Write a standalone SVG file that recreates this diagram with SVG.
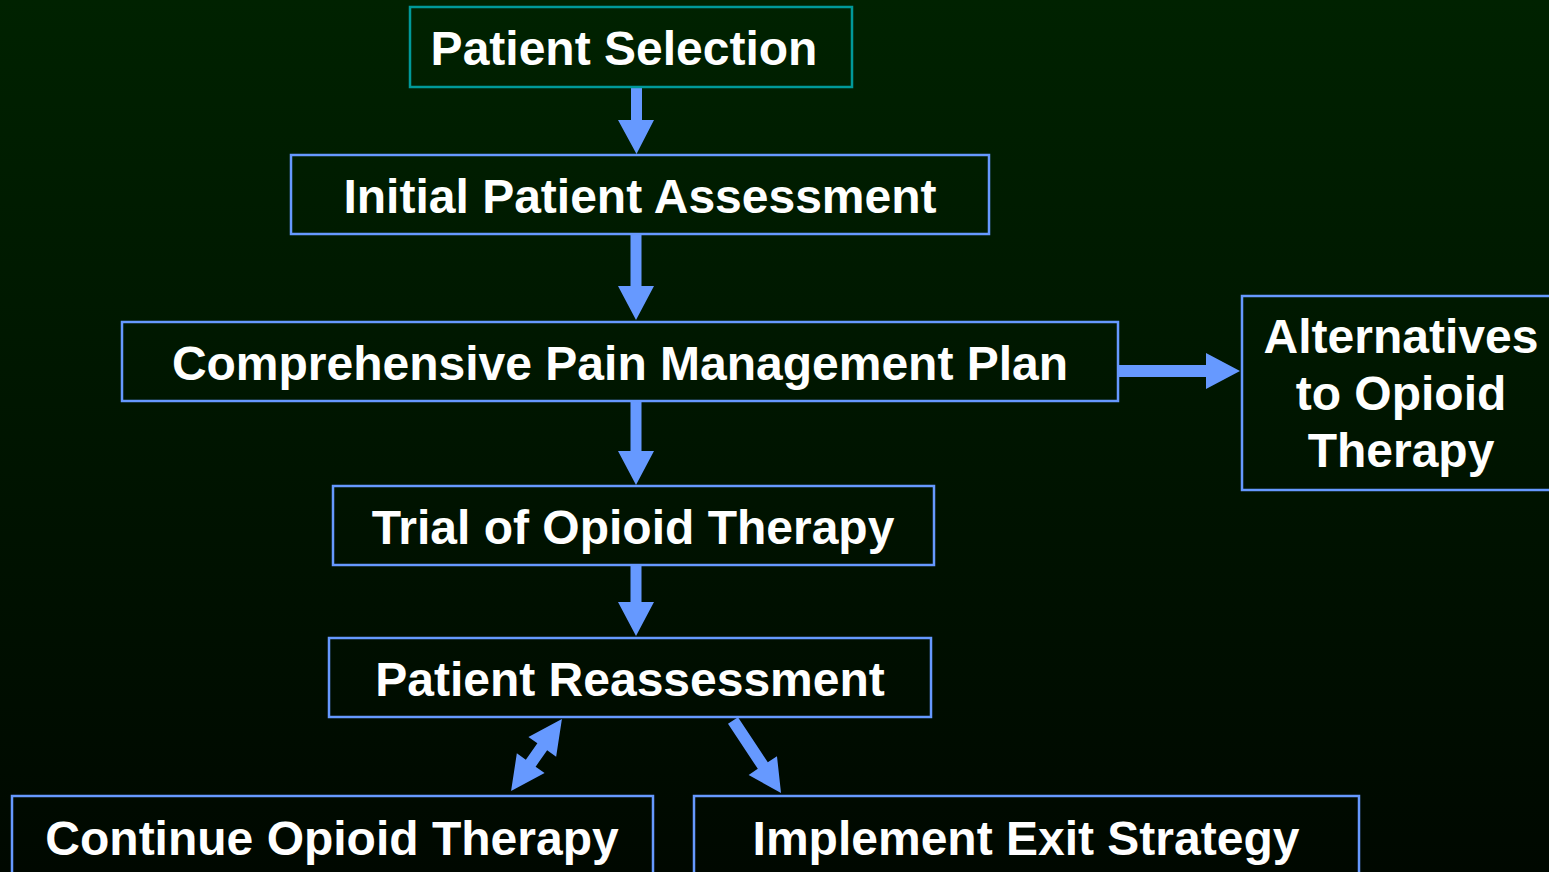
<svg xmlns="http://www.w3.org/2000/svg" width="1549" height="872" viewBox="0 0 1549 872">
<defs>
<linearGradient id="bg" x1="0" y1="0" x2="0" y2="1">
<stop offset="0" stop-color="#002200"/>
<stop offset="1" stop-color="#000800"/>
</linearGradient>
</defs>
<style>
.box{fill:none;stroke:#6699FF;stroke-width:2.5}
.teal{fill:none;stroke:#009999;stroke-width:2.5}
.t{font-family:"Liberation Sans",Arial,sans-serif;font-weight:bold;font-size:48px;fill:#FFFFFF;text-anchor:middle}
.arr{fill:#6699FF}
</style>
<rect width="1549" height="872" fill="url(#bg)"/>
<g id="connectors">
<polygon class="arr" points="631,86 642,86 642,120 654,120 636.5,154 618,120 631,120"/>
<polygon class="arr" points="630.5,235 641.5,235 641.5,286 654,286 636,320 618,286 630.5,286"/>
<polygon class="arr" points="630.5,401 641.5,401 641.5,451 654,451 636,485 618,451 630.5,451"/>
<polygon class="arr" points="630.5,566 641.5,566 641.5,602 654,602 636,636 618,602 630.5,602"/>
<polygon class="arr" points="1119,365 1206,365 1206,353 1240,371 1206,389 1206,377 1119,377"/>
<g transform="translate(536.5,755) rotate(125.3)">
<polygon class="arr" points="-44,0 -10,-17 -10,-6 10,-6 10,-17 44,0 10,17 10,6 -10,6 -10,17"/>
</g>
<g transform="translate(733,720.5) rotate(56.5)">
<polygon class="arr" points="0,-6 54,-6 54,-17 87,0 54,17 54,6 0,6"/>
</g>
</g>
<g id="patient-selection">
<rect class="teal" x="410" y="7" width="442" height="80"/>
<text class="t" x="624" y="65">Patient Selection</text>
</g>
<g id="initial-assessment">
<rect class="box" x="291" y="155" width="698" height="79"/>
<text class="t" x="640" y="213">Initial Patient Assessment</text>
</g>
<g id="pain-plan">
<rect class="box" x="122" y="322" width="996" height="79"/>
<text class="t" x="620" y="380">Comprehensive Pain Management Plan</text>
</g>
<g id="alternatives">
<rect class="box" x="1242" y="296" width="320" height="194"/>
<text class="t" x="1401" y="353">Alternatives</text>
<text class="t" x="1401" y="410">to Opioid</text>
<text class="t" x="1401" y="467">Therapy</text>
</g>
<g id="trial">
<rect class="box" x="333" y="486" width="601" height="79"/>
<text class="t" x="633" y="544">Trial of Opioid Therapy</text>
</g>
<g id="reassessment">
<rect class="box" x="329" y="638" width="602" height="79"/>
<text class="t" x="630" y="696">Patient Reassessment</text>
</g>
<g id="continue">
<rect class="box" x="12" y="796" width="641" height="90"/>
<text class="t" x="332" y="855">Continue Opioid Therapy</text>
</g>
<g id="exit">
<rect class="box" x="694" y="796" width="665" height="90"/>
<text class="t" x="1026" y="855">Implement Exit Strategy</text>
</g>
</svg>
